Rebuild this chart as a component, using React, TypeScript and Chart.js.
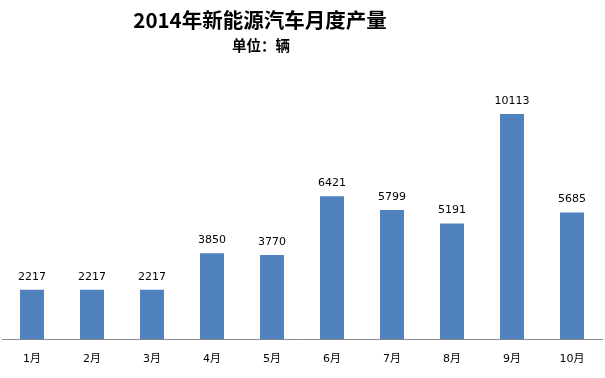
import React, { useEffect, useRef } from "react";
import { Chart, registerables } from "chart.js";

Chart.register(...registerables);

const TITLE = "2014年新能源汽车月度产量";
const SUBTITLE = "单位：辆";
const MONTHS = ["1月", "2月", "3月", "4月", "5月", "6月", "7月", "8月", "9月", "10月"];
const PRODUCTION = [2217, 2217, 2217, 3850, 3770, 6421, 5799, 5191, 10113, 5685];
const Y_MAX = 12000;

const BAR_COLOR = "#4F81BD";
const LABEL_FONT = "'DejaVu Sans', 'Noto Sans CJK SC', sans-serif";
const TITLE_FONT = "'Noto Sans CJK SC', sans-serif";

const valueLabels = {
  id: "valueLabels",
  afterDatasetsDraw(chart: any) {
    const { ctx } = chart;
    const meta = chart.getDatasetMeta(0);
    ctx.save();
    ctx.font = `11px ${LABEL_FONT}`;
    ctx.fillStyle = "#000";
    ctx.textAlign = "center";
    ctx.textBaseline = "middle";
    meta.data.forEach((bar: any, i: number) => {
      const v = chart.data.datasets[0].data[i];
      ctx.fillText(String(v), bar.x, bar.y - 13);
    });
    ctx.restore();
  },
};

const titles = {
  id: "titles",
  afterDraw(chart: any) {
    const { ctx } = chart;
    ctx.save();
    ctx.fillStyle = "#000";
    ctx.textAlign = "center";
    ctx.textBaseline = "middle";
    ctx.font = `bold 20.5px ${TITLE_FONT}`;
    ctx.fillText(TITLE, 260, 20);
    ctx.font = `bold 14.5px ${TITLE_FONT}`;
    ctx.fillText(SUBTITLE, 261, 45);
    ctx.restore();
  },
};

export default function App() {
  const ref = useRef<HTMLCanvasElement | null>(null);
  useEffect(() => {
    if (!ref.current) return;
    const chart = new Chart(ref.current, {
      type: "bar",
      data: {
        labels: MONTHS,
        datasets: [
          {
            data: PRODUCTION,
            backgroundColor: BAR_COLOR,
            borderWidth: 0,
            categoryPercentage: 1,
            barPercentage: 0.4,
          },
        ],
      },
      options: {
        responsive: false,
        animation: false,
        layout: { padding: { left: 2, right: 3, top: 72, bottom: 0 } },
        plugins: {
          legend: { display: false },
          tooltip: { enabled: false },
          title: { display: false },
          subtitle: { display: false },
        },
        scales: {
          x: {
            grid: { display: false, drawTicks: false },
            border: { display: true, color: "#898989", width: 1 },
            ticks: {
              color: "#000",
              padding: 14,
              font: { family: LABEL_FONT, size: 11 },
              maxRotation: 0,
            },
            afterFit: (s: any) => {
              s.height = 39;
            },
          },
          y: {
            display: false,
            min: 0,
            max: Y_MAX,
          },
        },
      },
      plugins: [valueLabels, titles],
    });
    return () => chart.destroy();
  }, []);
  return (
    <div style={{ position: "absolute", left: 0, top: 0, width: 605, height: 378, background: "#fff" }}>
      <canvas ref={ref} width={605} height={378} />
    </div>
  );
}
